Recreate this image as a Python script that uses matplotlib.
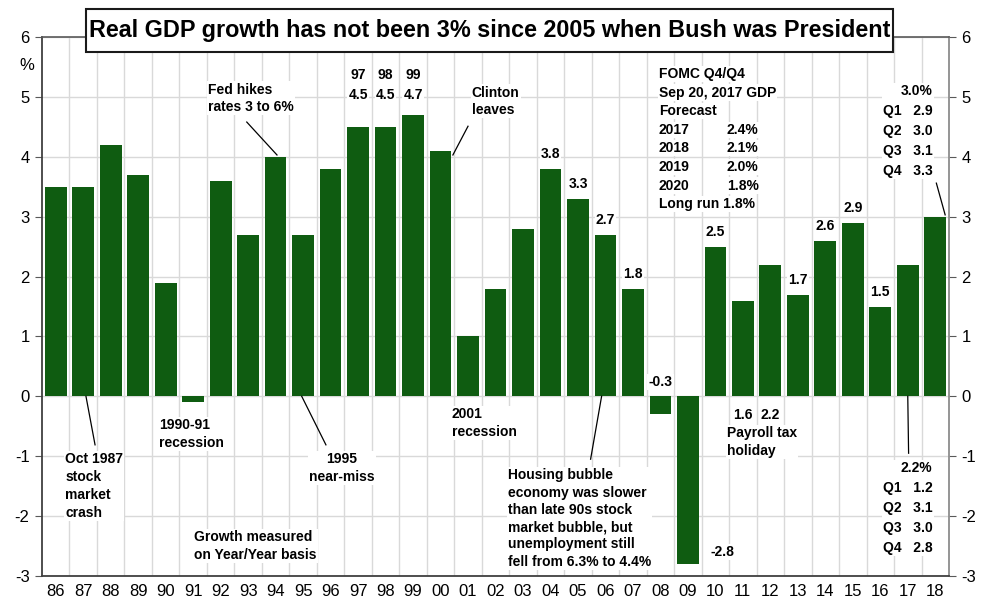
import matplotlib
matplotlib.use("Agg")
import matplotlib.pyplot as plt
from matplotlib.ticker import FixedLocator
from matplotlib.patches import Rectangle

plt.rcParams['font.family'] = ['Liberation Sans', 'DejaVu Sans']

years = ['86', '87', '88', '89', '90', '91', '92', '93', '94', '95', '96', '97', '98',
         '99', '00', '01', '02', '03', '04', '05', '06', '07', '08', '09', '10', '11',
         '12', '13', '14', '15', '16', '17', '18']
growth = [3.5, 3.5, 4.2, 3.7, 1.9, -0.1, 3.6, 2.7, 4.0, 2.7, 3.8, 4.5, 4.5,
          4.7, 4.1, 1.0, 1.8, 2.8, 3.8, 3.3, 2.7, 1.8, -0.3, -2.8, 2.5, 1.6,
          2.2, 1.7, 2.6, 2.9, 1.5, 2.2, 3.0]
labelled_above = ['04', '05', '06', '07', '10', '13', '14', '15', '16']
y_ticks = [-3, -2, -1, 0, 1, 2, 3, 4, 5, 6]

fomc_header = ["FOMC Q4/Q4", "Sep 20, 2017 GDP", "Forecast"]
fomc_years = ['2017', '2018', '2019', '2020']
fomc_pct = [2.4, 2.1, 2.0, 1.8]
fomc_long_run = 1.8

q_2018 = [2.9, 3.0, 3.1, 3.3]
q_2018_total = 3.0
q_2017 = [1.2, 3.1, 3.0, 2.8]
q_2017_total = 2.2

title = "Real GDP growth has not been 3% since 2005 when Bush was President"

BAR = '#0f5c11'
GRID = '#d9d9d9'

fig = plt.figure(figsize=(9.89, 5.98), dpi=100)
ax = fig.add_axes([42/989, 22/598, (949-42)/989, (576-37)/598])

x = list(range(len(years)))
ax.bar(x, growth, width=0.79, color=BAR, zorder=3)

ax.set_xlim(-0.5, len(years) - 0.5)
ax.set_ylim(-3, 6)
ax.set_xticks(x)
ax.set_xticklabels(years, fontsize=12)
ax.xaxis.set_minor_locator(FixedLocator([i + 0.5 for i in range(len(years) - 1)]))
ax.set_yticks(y_ticks)
ax.set_yticklabels([str(v) for v in y_ticks], fontsize=12)
ax.tick_params(axis='x', which='both', length=0, pad=6)
ax.tick_params(axis='y', which='both', length=5, direction='out', right=True,
               labelright=True, color='#595959', pad=4)
ax.grid(axis='y', which='major', color=GRID, lw=1.0, zorder=0)
ax.grid(axis='x', which='minor', color=GRID, lw=1.0, zorder=0)
ax.set_axisbelow(True)
for side in ['left', 'bottom']:
    ax.spines[side].set_color('#404040')
    ax.spines[side].set_linewidth(1.3)
ax.spines['top'].set_color('#595959')
ax.spines['top'].set_linewidth(1.2)
ax.spines['right'].set_color('#8c8c8c')
ax.spines['right'].set_linewidth(1.3)

# title box
fig.patches.append(Rectangle((86/989, 1 - 52/598), 807/989, 43/598,
                             transform=fig.transFigure, fc='white', ec='#1a1a1a',
                             lw=1.5, zorder=10))
fig.text(489.5/989, 1 - 30.5/598, title, ha='center', va='center', fontsize=16.8,
         fontweight='bold', zorder=11)
fig.text(27/989, 1 - 66/598, '%', ha='center', va='center', fontsize=12)

WB = dict(boxstyle='square,pad=0.08', fc='white', ec='none')
FS = 10
LS = 1.35
PX = 59.9  # pixels per y unit


def txt(xd, yd, s, ha='left', va='top', ma=None, ls=LS, **kw):
    ax.text(xd, yd, s, ha=ha, va=va, fontsize=FS, fontweight='bold',
            multialignment=ma if ma else ha, linespacing=ls, bbox=WB,
            zorder=6, **kw)


def line(x0, y0, x1, y1):
    ax.plot([x0, x1], [y0, y1], color='black', lw=0.9, zorder=5)


# value labels above bars
for i, (yr, v) in enumerate(zip(years, growth)):
    if yr in labelled_above:
        ax.annotate(f"{v:.1f}", (i, v), xytext=(0, 5.5), textcoords='offset points',
                    ha='center', va='bottom', fontsize=FS, fontweight='bold',
                    bbox=WB, zorder=6)

i97 = years.index('97')
for k in range(3):
    idx = i97 + k
    txt(idx, 5.48, f"{years[idx]}\n{growth[idx]:.1f}", ha='center', ls=1.5)

i08 = years.index('08')
txt(i08, 0.24, f"{growth[i08]:.1f}", ha='center', va='center')
i09 = years.index('09')
txt(24.26, -2.6, f"{growth[i09]:.1f}", ha='center', va='center')
i11 = years.index('11')
i12 = years.index('12')
txt(i11, -0.31, f"{growth[i11]:.1f}", ha='center', va='center')
txt(i12, -0.31, f"{growth[i12]:.1f}", ha='center', va='center')

# annotations
txt(5.54, 5.24, "Fed hikes\nrates 3 to 6%")
line(6.95, 4.58, 8.05, 4.03)
txt(15.14, 5.19, "Clinton\nleaves")
line(15.0, 4.51, 14.45, 4.03)
txt(24.41, -0.49, "Payroll tax\nholiday")
txt(3.75, -0.36, "1990-91\nrecession")
txt(0.34, -0.93, "Oct 1987\nstock\nmarket\ncrash")
line(1.43, -0.81, 1.1, 0.0)
txt(10.4, -0.93, "1995\nnear-miss", ha='center')
line(9.83, -0.81, 8.95, 0.0)
txt(14.41, -0.18, "2001\nrecession")
txt(5.03, -2.23, "Growth measured\non Year/Year basis")
txt(16.45, -1.2, "Housing bubble\neconomy was slower\nthan late 90s stock\n"
    "market bubble, but\nunemployment still\nfell from 6.3% to 4.4%", ls=1.3)
line(19.46, -1.05, 19.86, 0.0)

# FOMC forecast block, one row at a time (baselines)
base0 = 6 - (78 - 37) / PX
step = 18.6 / PX
rows = fomc_header + fomc_years + [f"Long run {fomc_long_run:.1f}%"]
for r, s in enumerate(rows):
    txt(21.94, base0 - r * step, s, va='baseline')
for r, v in enumerate(fomc_pct):
    txt(24.41, base0 - (len(fomc_header) + r) * step, f"{v:.1f}%", va='baseline')

txt(31.9, 5.22, f"{q_2018_total:.1f}%\n" +
    "\n".join(f"Q{k+1}   {v:.1f}" for k, v in enumerate(q_2018)), ha='right', ls=1.55)
line(32.04, 3.56, 32.36, 3.03)
txt(31.9, -1.08, f"{q_2017_total:.1f}%\n" +
    "\n".join(f"Q{k+1}   {v:.1f}" for k, v in enumerate(q_2017)), ha='right', ls=1.55)
line(31.03, -0.95, 31.0, 0.0)

fig.savefig('out.png', dpi=100)
